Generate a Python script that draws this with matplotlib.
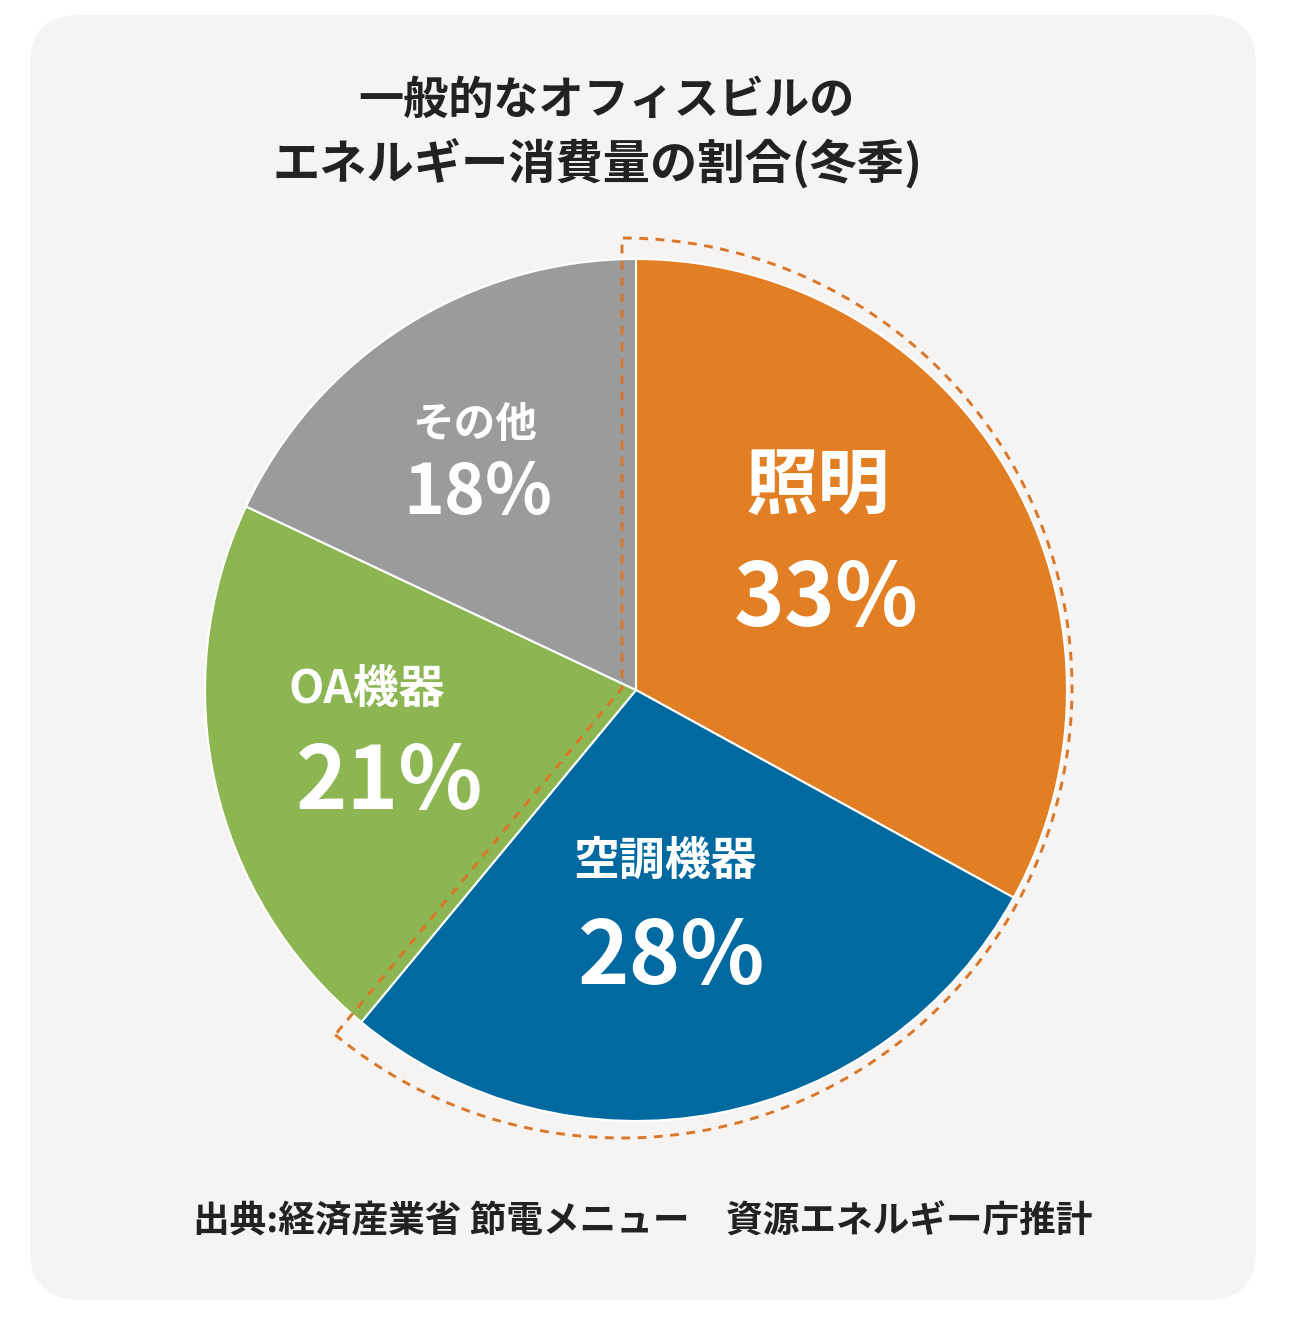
import matplotlib
matplotlib.use("Agg")
import matplotlib.pyplot as plt
from matplotlib.patches import FancyBboxPatch, Wedge

plt.rcParams['font.family'] = ['Noto Sans CJK JP', 'DejaVu Sans']

categories = ["照明", "空調機器", "OA機器", "その他"]
values = [33, 28, 21, 18]
pct_labels = ["33%", "28%", "21%", "18%"]
colors = ["#E27F24", "#0069A0", "#8DB653", "#9A9B9B"]
highlight_n = 2  # 照明 + 空調機器

title_lines = ["一般的なオフィスビルの", "エネルギー消費量の割合(冬季)"]
source = "出典:経済産業省 節電メニュー　資源エネルギー庁推計"

W, H = 1297, 1317
fig = plt.figure(figsize=(W / 100, H / 100), dpi=100, facecolor="white")
ax = fig.add_axes([0, 0, 1, 1])
ax.set_xlim(0, W)
ax.set_ylim(0, H)
ax.set_aspect("equal")
ax.axis("off")

def Y(y):
    return H - y

# background panel
ax.add_patch(FancyBboxPatch((30, Y(1300)), 1226, 1285,
                            boxstyle="round,pad=0,rounding_size=50",
                            facecolor="#F5F4F2", edgecolor="none", zorder=0))

cx, cy, r = 636, Y(690), 431
wedges, _ = ax.pie(values, colors=colors, startangle=90, counterclock=False,
                   center=(cx, cy), radius=r,
                   wedgeprops=dict(edgecolor="white", linewidth=1.5))
for w in wedges:
    w.set_zorder(2)
ax.set_xlim(0, W)
ax.set_ylim(0, H)

# dashed highlight sector
frac = sum(values[:highlight_n]) / sum(values)
ax.add_patch(Wedge((622, Y(688)), 450, 90 - frac * 360, 90,
                   fill=False, edgecolor="#D9772A", linewidth=2.1,
                   linestyle=(0, (3, 2.6)), zorder=3))

# title
ax.text(606, Y(101), title_lines[0], ha="center", va="center", fontsize=32.5,
        fontweight="bold", color="#222222")
ax.text(598, Y(163), title_lines[1], ha="center", va="center", fontsize=34,
        fontweight="bold", color="#222222")

# labels
lab_pos = [(818, 487), (665, 862), (367, 690), (475, 425)]
lab_size = [52, 33, 33, 30]
pct_pos = [(826, 601), (672, 959), (390, 784), (478, 494)]
pct_size = [62, 63, 63, 50]
for i in range(len(categories)):
    ax.text(lab_pos[i][0], Y(lab_pos[i][1]), categories[i], ha="center", va="center",
            fontsize=lab_size[i], fontweight="bold", color="white", zorder=4)
    ax.text(pct_pos[i][0], Y(pct_pos[i][1]), pct_labels[i], ha="center", va="center",
            fontsize=pct_size[i], fontweight="bold", color="white", zorder=4)

ax.text(643, Y(1222), source, ha="center", va="center", fontsize=26.4,
        fontweight="bold", color="#222222")

fig.savefig("out.png", dpi=100, facecolor="white")
